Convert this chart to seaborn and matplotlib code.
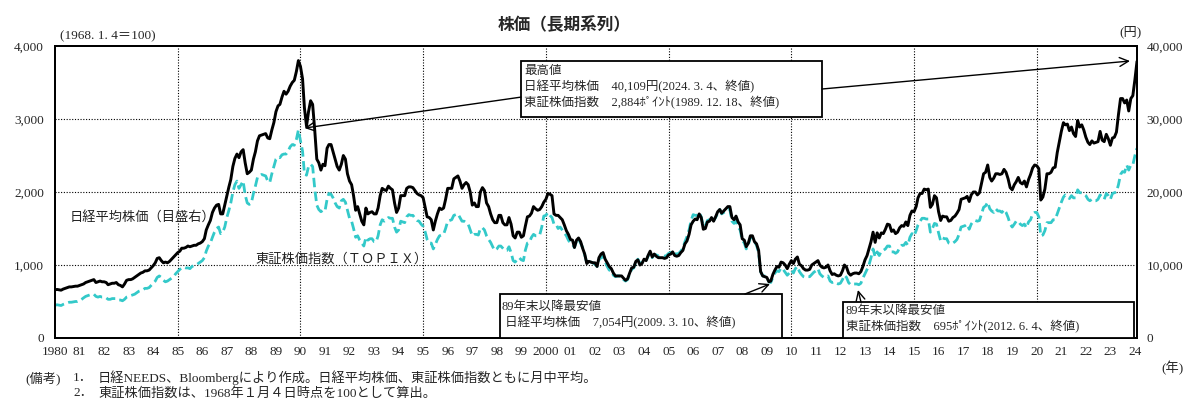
import numpy as np
import pandas as pd
import matplotlib
matplotlib.use("Agg")
import matplotlib.pyplot as plt
from matplotlib.patches import Rectangle
import seaborn as sns

# monthly averages, Jan 1980 - Feb 2024
nikkei = [
    6600, 6650, 6600, 6550, 6700, 6800, 6900, 7000, 7000, 7050, 7100, 7100,          # 1980
    7200, 7300, 7400, 7600, 7700, 7800, 7900, 8000, 7600, 7700, 7800, 7700,          # 1981
    7700, 7600, 7300, 7400, 7500, 7500, 7600, 7300, 7200, 7000, 7400, 7900,          # 1982
    8000, 8000, 8100, 8300, 8500, 8700, 8900, 9000, 9200, 9200, 9300, 9600,          # 1983
    9900, 10300, 10900, 11000, 10600, 10300, 10400, 10300, 10500, 10800, 11100, 11400,  # 1984
    11700, 11900, 12300, 12300, 12400, 12600, 12500, 12600, 12700, 12700, 12900, 13000,  # 1985
    13200, 13600, 14800, 15500, 16100, 17200, 17800, 18200, 18300, 17000, 17000, 18200,  # 1986
    19500, 20700, 21700, 23500, 24600, 25200, 24700, 25500, 25800, 24000, 22500, 22700,  # 1987
    23000, 24500, 25500, 27000, 27700, 27800, 27900, 28000, 27400, 27300, 28500, 29500,  # 1988
    31000, 31800, 32000, 33000, 33800, 33400, 33800, 34500, 35000, 35300, 36500, 38000,  # 1989
    37200, 35500, 31500, 29000, 31000, 32500, 32000, 28500, 24500, 24000, 23000, 23800,  # 1990
    23600, 26000, 26500, 26500, 25500, 24500, 23500, 23000, 23800, 25000, 24500, 22500,  # 1991
    21500, 21000, 19500, 17500, 18000, 17000, 16000, 15500, 17800, 17000, 17200, 17300,  # 1992
    17000, 17000, 17800, 19500, 20500, 20300, 20200, 20800, 20500, 20300, 18500, 17200,  # 1993
    17800, 19500, 19500, 19500, 20500, 20700, 20700, 20600, 20200, 19800, 19600, 19500,  # 1994
    19200, 17800, 16600, 16500, 16200, 14800, 16000, 17000, 17800, 17600, 17800, 19000,  # 1995
    20500, 20500, 20500, 21800, 22000, 22200, 21500, 20500, 21000, 21300, 21000, 20000,  # 1996
    18200, 18500, 18000, 18000, 20000, 20600, 20200, 18500, 18000, 17000, 16200, 15800,  # 1997
    15800, 16800, 16800, 15800, 15500, 15500, 16500, 15600, 14000, 13700, 14500, 14500,  # 1998
    13800, 14000, 15300, 16600, 16700, 17100, 18000, 17700, 17500, 17600, 18000, 18600,  # 1999
    19000, 19800, 19700, 19500, 17000, 16800, 16800, 16500, 16200, 15500, 14700, 14200,  # 2000
    13500, 13400, 12400, 13400, 13700, 13200, 12300, 11500, 10200, 10500, 10400, 10300,  # 2001
    10300, 9800, 11000, 11500, 11700, 10800, 10300, 9800, 9500, 8900, 8500, 8500,        # 2002
    8500, 8500, 8200, 7900, 8100, 8900, 9600, 9700, 10500, 10700, 10000, 10200,          # 2003
    10800, 10600, 11300, 11900, 11100, 11500, 11200, 11000, 11000, 11000, 10900, 11000,  # 2004
    11400, 11500, 11800, 11300, 11200, 11300, 11700, 12000, 12900, 13300, 14200, 15500,  # 2005
    16000, 16300, 16200, 17000, 16500, 14900, 15000, 15900, 16000, 16500, 16000, 16600,  # 2006
    17300, 17600, 17100, 17400, 17700, 18000, 18000, 16500, 16200, 16700, 15900, 15500,  # 2007
    13600, 13400, 12500, 13000, 14000, 14000, 13200, 12900, 12000, 9100, 8500, 8400,     # 2008
    8300, 7700, 7800, 8700, 9300, 9800, 9700, 10400, 10300, 10000, 9500, 10100,          # 2009
    10600, 10200, 10800, 11100, 10100, 9900, 9500, 9300, 9300, 9400, 10000, 10200,       # 2010
    10400, 10600, 10000, 9700, 9600, 9700, 10000, 9200, 8700, 8800, 8600, 8500,          # 2011
    8600, 9200, 10000, 9700, 8900, 8600, 8800, 8900, 8900, 8800, 9100, 9800,            # 2012
    10700, 11300, 12200, 13200, 14500, 13100, 14400, 13700, 14400, 14300, 14900, 15600,  # 2013
    15500, 14600, 14800, 14300, 14500, 15100, 15400, 15300, 15900, 15400, 16800, 17400,  # 2014
    17300, 18000, 19200, 19800, 19800, 20400, 20300, 20400, 17900, 18300, 19500, 19200,  # 2015
    17300, 16100, 16700, 16600, 16600, 16000, 16100, 16500, 16700, 17100, 17600, 19000,  # 2016
    19100, 19200, 19400, 18700, 19600, 20000, 20000, 19600, 19900, 21200, 22500, 22700,  # 2017
    23700, 22000, 21500, 21900, 22500, 22500, 22400, 22500, 23100, 22700, 21800, 20600,  # 2018
    20300, 21000, 21400, 22000, 21300, 21100, 21500, 20700, 21700, 22400, 23300, 23700,  # 2019
    23600, 23200, 18900, 19300, 20400, 22500, 22500, 22700, 23300, 23400, 25400, 26800,  # 2020
    28300, 29500, 29200, 29300, 28400, 28900, 28000, 27600, 29800, 28900, 29200, 28500,  # 2021
    27500, 26800, 26500, 27000, 26700, 26800, 26900, 28300, 27100, 26900, 27900, 27300,  # 2022
    26400, 27400, 27500, 28200, 30600, 32800, 32800, 32200, 32600, 31100, 32800, 33200,  # 2023
    35400, 37900,                                                                        # 2024
]

topix = [
    450, 455, 450, 445, 460, 470, 480, 490, 490, 495, 500, 500,
    510, 530, 550, 570, 580, 590, 595, 600, 570, 560, 570, 560,
    560, 550, 530, 530, 540, 540, 540, 520, 520, 510, 530, 560,
    570, 580, 590, 600, 620, 640, 650, 660, 680, 680, 690, 720,
    750, 780, 830, 850, 830, 790, 770, 780, 800, 820, 840, 880,
    910, 940, 960, 970, 960, 960, 950, 980, 990, 1000, 1020, 1040,
    1060, 1100, 1190, 1260, 1300, 1380, 1450, 1500, 1520, 1430, 1450, 1520,
    1650, 1750, 1850, 2000, 2100, 2150, 2050, 2100, 2150, 1960, 1850, 1830,
    1850, 1980, 2080, 2200, 2220, 2240, 2230, 2220, 2150, 2130, 2250, 2350,
    2450, 2480, 2470, 2510, 2520, 2520, 2560, 2620, 2650, 2640, 2720, 2850,
    2700, 2560, 2250, 2230, 2350, 2380, 2350, 2050, 1820, 1760, 1730, 1750,
    1740, 1900, 1980, 1970, 1920, 1850, 1800, 1780, 1880, 1900, 1860, 1750,
    1640, 1600, 1500, 1380, 1400, 1340, 1300, 1260, 1380, 1340, 1360, 1360,
    1320, 1320, 1400, 1550, 1620, 1600, 1620, 1650, 1640, 1640, 1520, 1450,
    1480, 1600, 1590, 1580, 1660, 1690, 1680, 1680, 1640, 1610, 1600, 1560,
    1530, 1450, 1350, 1300, 1300, 1220, 1280, 1350, 1400, 1410, 1420, 1500,
    1600, 1610, 1620, 1680, 1690, 1700, 1650, 1600, 1600, 1580, 1560, 1480,
    1400, 1420, 1420, 1410, 1500, 1510, 1480, 1400, 1350, 1310, 1250, 1200,
    1220, 1260, 1260, 1230, 1200, 1200, 1250, 1170, 1060, 1040, 1080, 1100,
    1070, 1060, 1200, 1300, 1310, 1380, 1420, 1400, 1400, 1410, 1520, 1670,
    1680, 1720, 1680, 1650, 1560, 1560, 1500, 1520, 1480, 1440, 1400, 1340,
    1300, 1280, 1240, 1330, 1360, 1300, 1240, 1140, 1030, 1040, 1040, 1030,
    1010, 980, 1070, 1100, 1120, 1050, 980, 930, 920, 860, 840, 850,
    850, 840, 800, 780, 800, 880, 940, 960, 1040, 1080, 1020, 1030,
    1070, 1060, 1120, 1170, 1100, 1140, 1140, 1120, 1130, 1130, 1120, 1130,
    1160, 1170, 1190, 1160, 1150, 1160, 1190, 1230, 1320, 1390, 1480, 1610,
    1690, 1680, 1680, 1720, 1660, 1530, 1540, 1610, 1620, 1660, 1610, 1650,
    1710, 1760, 1700, 1720, 1730, 1770, 1760, 1600, 1570, 1600, 1520, 1480,
    1340, 1300, 1220, 1280, 1370, 1380, 1320, 1270, 1170, 910, 850, 850,
    830, 770, 760, 830, 890, 920, 910, 960, 940, 900, 860, 890,
    930, 890, 950, 980, 910, 870, 840, 830, 840, 840, 870, 900,
    920, 950, 880, 850, 830, 840, 850, 780, 760, 770, 750, 740,
    750, 800, 860, 830, 760, 730, 740, 740, 740, 730, 750, 820,
    880, 940, 1000, 1100, 1220, 1110, 1180, 1130, 1190, 1200, 1220, 1260,
    1260, 1180, 1180, 1160, 1180, 1240, 1270, 1270, 1310, 1270, 1380, 1430,
    1400, 1470, 1550, 1600, 1640, 1640, 1630, 1630, 1450, 1500, 1570, 1560,
    1440, 1330, 1370, 1360, 1360, 1300, 1290, 1300, 1320, 1350, 1420, 1520,
    1530, 1540, 1560, 1490, 1560, 1600, 1610, 1600, 1610, 1700, 1790, 1810,
    1860, 1770, 1740, 1720, 1770, 1740, 1740, 1720, 1760, 1720, 1650, 1560,
    1520, 1560, 1600, 1600, 1560, 1540, 1560, 1510, 1590, 1620, 1700, 1720,
    1720, 1660, 1400, 1410, 1470, 1580, 1580, 1580, 1620, 1620, 1700, 1780,
    1860, 1930, 1960, 1940, 1910, 1950, 1920, 1920, 2030, 1990, 1990, 1970,
    1950, 1900, 1880, 1900, 1880, 1880, 1900, 1960, 1930, 1900, 1980, 1950,
    1900, 1980, 1990, 2000, 2100, 2240, 2280, 2270, 2370, 2300, 2370, 2370,
    2500, 2600,
]

years = list(range(1980, 2025))
year_labels = ["1980"] + [f"{y % 100:02d}" for y in range(1981, 2000)] + ["2000"] + \
              [f"{y % 100:02d}" for y in range(2001, 2025)]
grid_years = [1985, 1990, 1995, 2000, 2005, 2010, 2015, 2020]
left_ticks = [0, 1000, 2000, 3000, 4000]
left_labels = ["0", "1,000", "2,000", "3,000", "4,000"]
right_ticks = [0, 10000, 20000, 30000, 40000]
right_labels = ["0", "10,000", "20,000", "30,000", "40,000"]

assert len(nikkei) == len(topix)
df = pd.DataFrame({
    "date": pd.date_range("1980-01-01", periods=len(nikkei), freq="MS"),
    "nikkei": nikkei,
    "topix": topix,
})

sns.set_style("white")
plt.rcParams["font.family"] = ["Liberation Serif", "Noto Sans CJK JP", "DejaVu Sans"]
jp = ["Noto Sans CJK JP", "DejaVu Sans"]

fig = plt.figure(figsize=(12, 4.03), dpi=100)
ax = fig.add_axes([55 / 1200, 1 - 338 / 403, 1082 / 1200, 292 / 403])
ax2 = ax.twinx()

cyan = "#33C9C9"
sns.lineplot(data=df, x="date", y="topix", ax=ax, color=cyan, lw=2.0,
             linestyle=(0, (3.4, 1.6)))
sns.lineplot(data=df, x="date", y="nikkei", ax=ax2, color="black", lw=2.1)

ax.set_ylim(0, 4000)
ax2.set_ylim(0, 40000)
ax.set_xlim(df["date"].iloc[0], df["date"].iloc[-1])

ax.set_yticks(left_ticks, left_labels)
ax2.set_yticks(right_ticks, right_labels)
ax.set_xticks([pd.Timestamp(f"{y}-01-01") for y in years], year_labels)
ax.tick_params(axis="y", length=0, pad=8, labelsize=9.5)
ax2.tick_params(axis="y", length=0, pad=7, labelsize=9.5)
ax.tick_params(axis="x", length=0, pad=6, labelsize=9.5)
for a in (ax, ax2):
    a.set_xlabel("")
    a.set_ylabel("")
    for s in a.spines.values():
        s.set_color("black")
        s.set_linewidth(1.4)

for v in left_ticks[1:-1]:
    ax.axhline(v, color="black", lw=0.8, ls=(0, (1, 1.5)), zorder=0)
for y in grid_years:
    ax.axvline(pd.Timestamp(f"{y}-01-01"), color="black", lw=0.8, ls=(0, (1, 1.5)), zorder=0)

# series labels
ax.text(0.0139, 0.414, "日経平均株価（目盛右）", transform=ax.transAxes, fontsize=9.5,
        family=jp, va="center", color="#222222")
ax.text(0.1848, 0.2705, "東証株価指数（ＴＯＰＩＸ）", transform=ax.transAxes, fontsize=9.5,
        family=jp, va="center", color="#222222")

# annotation boxes
boxes = [
    (0.4307, 0.7568, 0.2782, 0.1918),
    (0.4113, 0.0, 0.2606, 0.1507),
    (0.7283, 0.0, 0.2689, 0.1233),
]
for x0, y0, w, h in boxes:
    ax2.add_patch(Rectangle((x0, y0), w, h, transform=ax2.transAxes, facecolor="white",
                            edgecolor="black", lw=1.3, zorder=5, clip_on=False))

ax2.text(0.4335, 0.935, "最高値\n日経平均株価　40,109円(2024. 3. 4、終値)\n東証株価指数　2,884ﾎﾟｲﾝﾄ(1989. 12. 18、終値)",
         transform=ax2.transAxes, fontsize=9, va="top", linespacing=1.3, zorder=6)
ax2.text(0.4131, 0.127, "89年末以降最安値\n 日経平均株価　7,054円(2009. 3. 10、終値)",
         transform=ax2.transAxes, fontsize=9, va="top", linespacing=1.3, zorder=6)
ax2.text(0.731, 0.112, "89年末以降最安値\n東証株価指数　695ﾎﾟｲﾝﾄ(2012. 6. 4、終値)",
         transform=ax2.transAxes, fontsize=9, va="top", linespacing=1.3, zorder=6)

arrow = dict(arrowstyle="->", color="black", lw=1.0, mutation_scale=16, shrinkA=0, shrinkB=0)
ax2.annotate("", xy=(0.2306, 0.719), xytext=(0.4307, 0.825), xycoords="axes fraction",
             textcoords="axes fraction", arrowprops=arrow, zorder=6)
ax2.annotate("", xy=(0.9935, 0.9486), xytext=(0.7089, 0.8527), xycoords="axes fraction",
             textcoords="axes fraction", arrowprops=arrow, zorder=6)
ax2.annotate("", xy=(0.6608, 0.185), xytext=(0.6377, 0.1507), xycoords="axes fraction",
             textcoords="axes fraction", arrowprops=arrow, zorder=6)
ax2.annotate("", xy=(0.7421, 0.1644), xytext=(0.7449, 0.1233), xycoords="axes fraction",
             textcoords="axes fraction", arrowprops=arrow, zorder=6)

# titles and notes
fig.text(564 / 1200, 1 - 25 / 403, "株価（長期系列）", ha="center", va="center",
         fontsize=12, weight="bold", family=jp)
fig.text(60 / 1200, 1 - 36 / 403, "(1968. 1. 4＝100)", va="center", fontsize=9.5)
fig.text(1131 / 1200, 1 - 32 / 403, "(円)", ha="center", va="center", fontsize=9.5)
fig.text(1173 / 1200, 1 - 368 / 403, "(年)", ha="center", va="center", fontsize=9.5)
fig.text(25 / 1200, 1 - 378 / 403, "(備考)", va="center", fontsize=9.5)
fig.text(73 / 1200, 1 - 378 / 403, "1．", va="center", fontsize=9.5)
fig.text(98 / 1200, 1 - 378 / 403, "日経NEEDS、Bloombergにより作成。日経平均株価、東証株価指数ともに月中平均。",
         va="center", fontsize=9.5)
fig.text(73 / 1200, 1 - 393 / 403, "2．", va="center", fontsize=9.5)
fig.text(98 / 1200, 1 - 393 / 403, "東証株価指数は、1968年１月４日時点を100として算出。",
         va="center", fontsize=9.5)

fig.savefig("out.png", dpi=100)
